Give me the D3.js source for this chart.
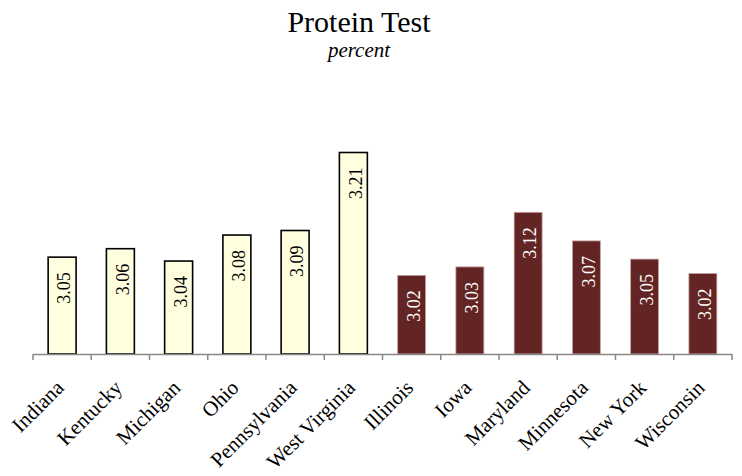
<!DOCTYPE html>
<html>
<head>
<meta charset="utf-8">
<script src="https://cdn.jsdelivr.net/npm/d3@7"></script>
<style>
  html, body { margin: 0; padding: 0; background: #fff; }
  text { font-family: 'Liberation Serif', 'Times New Roman', Times, 'DejaVu Serif', serif; }
</style>
</head>
<body>
<svg id="chart" width="742" height="476"></svg>
<script>
// ---- data ----
const states = ["Indiana", "Kentucky", "Michigan", "Ohio", "Pennsylvania", "West Virginia",
                "Illinois", "Iowa", "Maryland", "Minnesota", "New York", "Wisconsin"];
const values = [3.049, 3.062, 3.043, 3.083, 3.090, 3.210,
                3.021, 3.034, 3.118, 3.074, 3.046, 3.024];
const groups = ["A", "A", "A", "A", "A", "A", "B", "B", "B", "B", "B", "B"];
const yDomain = [2.9, 3.3];
const title = "Protein Test";
const subtitle = "percent";

// ---- layout ----
const FONT = "'Liberation Serif', 'Times New Roman', Times, serif";
const svg = d3.select("#chart");
const axisY = 354;
const x = d3.scaleBand().domain(states).range([33, 732]).paddingInner(0.52).paddingOuter(0.26);
const y = d3.scaleLinear().domain(yDomain).range([axisY, 94]);
const fill = d3.scaleOrdinal().domain(["A", "B"]).range(["#FFFFE0", "#632424"]);
const stroke = d3.scaleOrdinal().domain(["A", "B"]).range(["#000000", "#c9a3a3"]);
const textCol = d3.scaleOrdinal().domain(["A", "B"]).range(["#000000", "#ffffff"]);

const data = states.map((s, i) => ({ s, v: values[i], g: groups[i] }));

// title
svg.append("text").attr("x", 359).attr("y", 32).attr("text-anchor", "middle")
  .attr("font-family", FONT).attr("font-size", 30).attr("fill", "#000").text(title);
svg.append("text").attr("x", 359).attr("y", 57).attr("text-anchor", "middle")
  .attr("font-family", FONT).attr("font-size", 21).attr("font-style", "italic").attr("fill", "#000").text(subtitle);

// bars
svg.append("g").selectAll("rect").data(data).join("rect")
  .attr("x", d => x(d.s))
  .attr("y", d => y(d.v))
  .attr("width", x.bandwidth())
  .attr("height", d => axisY - y(d.v))
  .attr("fill", d => fill(d.g))
  .attr("stroke", d => stroke(d.g))
  .attr("stroke-width", d => d.g === "A" ? 1.6 : 0.8);

// value labels
svg.append("g").selectAll("text").data(data).join("text")
  .attr("transform", d => `translate(${x(d.s) + x.bandwidth() / 2 + 2},${y(d.v) + 15}) rotate(-90)`)
  .attr("text-anchor", "end")
  .attr("dy", "0.35em")
  .attr("font-family", FONT)
  .attr("font-size", 18)
  .attr("fill", d => textCol(d.g))
  .text(d => d3.format(".2f")(d.v));

// axis
const step = x.step();
const r0 = x.range();
const tickPos = d3.range(states.length + 1).map(i => r0[0] + i * step);
const axisG = svg.append("g");
axisG.append("line").attr("x1", r0[0]).attr("x2", r0[1]).attr("y1", axisY + 0.5).attr("y2", axisY + 0.5)
  .attr("stroke", "#888").attr("stroke-width", 1.5);
axisG.selectAll("line.tick").data(tickPos).join("line").attr("class", "tick")
  .attr("x1", d => d).attr("x2", d => d).attr("y1", axisY).attr("y2", axisY + 6)
  .attr("stroke", "#888").attr("stroke-width", 1.5);

// category labels
svg.append("g").selectAll("text").data(states).join("text")
  .attr("transform", d => `translate(${x(d) + x.bandwidth() / 2 + 3},${axisY + 35}) rotate(-45)`)
  .attr("text-anchor", "end")
  .attr("font-family", FONT)
  .attr("font-size", 21)
  .attr("fill", "#000")
  .text(d => d);
</script>
</body>
</html>
